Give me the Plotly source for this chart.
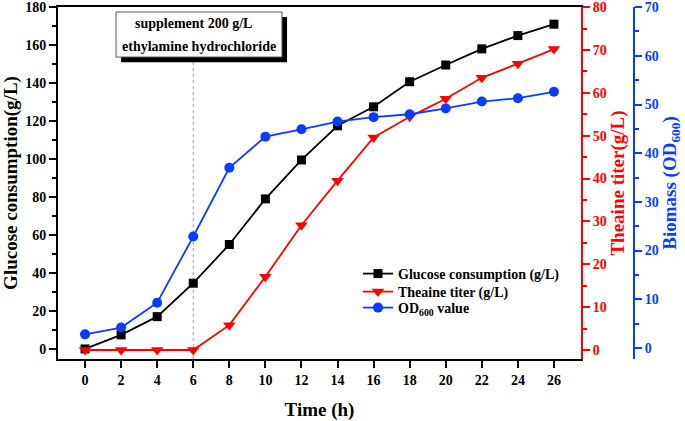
import plotly.graph_objects as go

time_h = [0, 2, 4, 6, 8, 10, 12, 14, 16, 18, 20, 22, 24, 26]
glucose = [0, 7.4, 17, 34.6, 55, 79, 99.5, 117.5, 127.5, 140.7, 149.5, 158, 165, 171]
theaine = [0, 0, 0, 0, 5.8, 17.1, 29.1, 39.5, 49.6, 54.4, 58.6, 63.5, 66.8, 70.2]
od600 = [2.8, 4.2, 9.3, 22.9, 37, 43.4, 44.9, 46.5, 47.4, 48, 49.2, 50.6, 51.3, 52.6]
x_ticks = list(range(0, 27, 2))

FONT = "Liberation Serif"
BLACK = "#000000"
RED = "#ff0000"
BLUE = "#0a3cff"

fig = go.Figure()
fig.add_trace(go.Scatter(x=time_h, y=glucose, name="Glucose consumption (g/L)",
                         mode="lines+markers", line=dict(color=BLACK, width=1.8),
                         marker=dict(symbol="square", size=9, color=BLACK), yaxis="y",
                         legend="legend"))
fig.add_trace(go.Scatter(x=time_h, y=theaine, name="Theaine titer (g/L)",
                         mode="lines+markers", line=dict(color=RED, width=1.8),
                         marker=dict(symbol="triangle-down", size=11, color=RED), yaxis="y2",
                         legend="legend2"))
fig.add_trace(go.Scatter(x=time_h, y=od600, name="OD<sub>600</sub> value",
                         mode="lines+markers", line=dict(color=BLUE, width=1.8),
                         marker=dict(symbol="circle", size=10, color=BLUE), yaxis="y3",
                         legend="legend3"))

W, H = 685, 421
ml, mr, mt, mb = 58, 40, 7, 62
pw = W - ml - mr
ph = H - mt - mb
x_dom_end = (581 - ml) / pw
blue_pos = (634 - ml) / pw


def leg(top_px):
    return dict(x=(358 - ml) / pw, y=(H - mb - top_px) / ph, xanchor="left", yanchor="top",
                bgcolor="rgba(0,0,0,0)", font=dict(family=FONT, size=14, weight="bold"),
                itemwidth=30)


tf = dict(family=FONT, size=14, weight="bold")
fig.update_layout(
    width=W, height=H,
    margin=dict(l=ml, r=mr, t=mt, b=mb, autoexpand=False),
    plot_bgcolor="white", paper_bgcolor="white",
    font=dict(family=FONT, size=14, color=BLACK, weight="bold"),
    showlegend=True,
    legend=leg(258),
    legend2=leg(276),
    legend3=leg(292),
    xaxis=dict(domain=[0, x_dom_end], range=[-1.5, 27.5], tickvals=x_ticks, automargin=False,
               showline=True, linecolor=BLACK, linewidth=2, mirror=True,
               ticks="outside", ticklen=7, tickwidth=2, tickcolor=BLACK,
               showgrid=False, zeroline=False, tickfont=tf, ticklabeloverflow="allow",
               title=dict(text="Time (h)", font=dict(family=FONT, size=19, weight="bold"), standoff=16)),
    yaxis=dict(range=[-5.3, 180.05], dtick=20, tick0=0, automargin=False,
               showline=True, linecolor=BLACK, linewidth=2, ticklabeloverflow="allow",
               ticks="outside", ticklen=7, tickwidth=2, tickcolor=BLACK,
               minor=dict(dtick=10, ticks="outside", ticklen=4, tickwidth=2, tickcolor=BLACK),
               showgrid=False, zeroline=False, tickfont=tf,
               title=dict(text="Glucose consumption(g/L)", font=dict(family=FONT, size=19, weight="bold"), standoff=6)),
    yaxis2=dict(range=[-2.1, 80.02], dtick=10, tick0=0, overlaying="y", side="right", anchor="x",
                automargin=False, ticklabeloverflow="allow",
                showline=True, linecolor=RED, linewidth=2,
                ticks="outside", ticklen=7, tickwidth=2, tickcolor=RED,
                minor=dict(dtick=5, ticks="outside", ticklen=4, tickwidth=2, tickcolor=RED),
                showgrid=False, zeroline=False, tickfont=dict(family=FONT, size=14, weight="bold", color=RED),
                title=dict(text="Theaine titer(g/L)", font=dict(family=FONT, size=19, weight="bold", color=RED), standoff=2)),
    yaxis3=dict(range=[-2.26, 70.02], dtick=10, tick0=0, overlaying="y", side="right", anchor="free",
                position=blue_pos, automargin=False, ticklabeloverflow="allow",
                showline=True, linecolor=BLUE, linewidth=2,
                ticks="outside", ticklen=7, tickwidth=2, tickcolor=BLUE,
                minor=dict(dtick=5, ticks="outside", ticklen=4, tickwidth=2, tickcolor=BLUE),
                showgrid=False, zeroline=False, tickfont=dict(family=FONT, size=14, weight="bold", color=BLUE),
                title=dict(text="Biomass (OD<sub>600</sub>)", font=dict(family=FONT, size=19, weight="bold", color=BLUE), standoff=2)),
)

# supplement marker line and note box
fig.add_shape(type="line", xref="x", yref="y", x0=6, x1=6, y0=-5.3, y1=152,
              line=dict(color="#9a9a9a", width=1, dash="dot"), layer="below")
fig.add_shape(type="rect", xref="x", yref="y", x0=2.0, x1=11.2, y0=151.0, y1=174.8,
              fillcolor=BLACK, line=dict(width=0))
fig.add_shape(type="rect", xref="x", yref="y", x0=1.72, x1=10.92, y0=153.7, y1=177.4,
              fillcolor="white", line=dict(color="#555555", width=1))
fig.add_annotation(xref="x", yref="y", x=6.0, y=171.2, text="supplement 200 g/L", showarrow=False,
                   font=dict(family=FONT, size=14, weight="bold", color=BLACK))
fig.add_annotation(xref="x", yref="y", x=6.3, y=159.3, text="ethylamine hydrochloride", showarrow=False,
                   font=dict(family=FONT, size=14, weight="bold", color=BLACK))

fig.write_html("out.html", config={"displayModeBar": False},
               post_script="document.body.style.margin='0';document.body.style.overflow='hidden';")
